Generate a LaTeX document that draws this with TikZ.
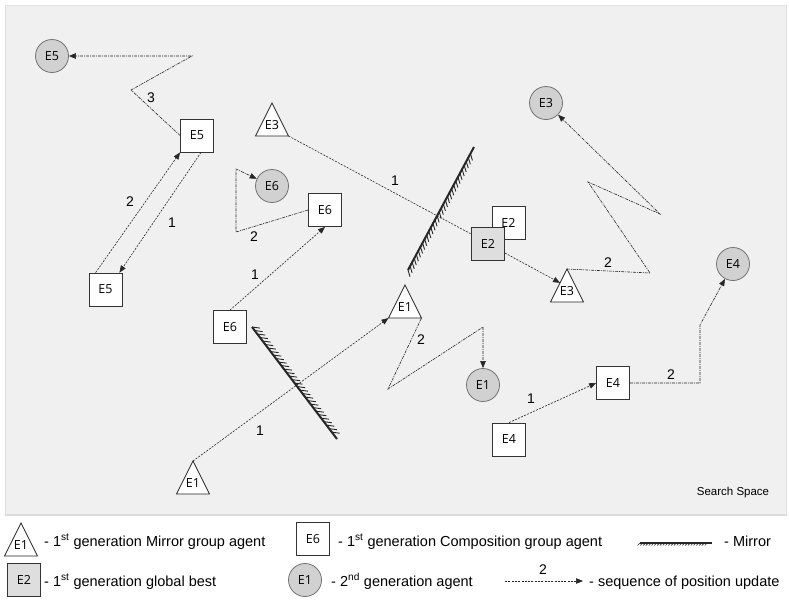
\documentclass[tikz,border=0pt]{standalone}
\usepackage{fontspec}
\setmainfont{Liberation Sans}
\newfontfamily\agentfont{Open Sans}
\usetikzlibrary{arrows.meta,decorations.pathreplacing,calc}

\tikzset{
  agentsq/.style={draw=black!80, line width=0.8pt, fill=white, minimum size=33pt,
    inner sep=0pt, font=\agentfont\fontsize{12.5}{12.5}\selectfont},
  bestsq/.style={agentsq, fill=black!13},
  nextgen/.style={circle, draw=black!55, line width=0.8pt, fill=black!18, minimum size=33pt,
    inner sep=0pt, font=\agentfont\fontsize{12.5}{12.5}\selectfont},
  trilabel/.style={inner sep=0pt, font=\agentfont\fontsize{12.5}{12.5}\selectfont},
  triedge/.style={draw=black!85, line width=0.8pt, fill=white, line join=miter},
  move/.style={draw=black!85, line width=0.6pt, dash pattern=on 2pt off 1.3pt},
  movedd/.style={draw=black!85, line width=0.6pt, dash pattern=on 3pt off 1pt on 1pt off 1pt},
  tip/.style={-{Triangle[length=7pt,width=5.5pt]}},
  stepnum/.style={inner sep=0pt, font=\fontsize{14}{14}\selectfont},
  legendtext/.style={anchor=base west, inner sep=0pt, font=\fontsize{14.5}{15}\selectfont},
  mirrorline/.style={draw=black!85, line width=2pt},
  mirrorhatch/.style={draw=black!85, line width=0.9pt, decorate,
    decoration={border, segment length=4.4pt, amplitude=#1, angle=-135}},
  mirrorhatchL/.style={draw=black!85, line width=0.9pt, decorate,
    decoration={border, segment length=4.4pt, amplitude=#1, angle=45}},
}

% triangle agent: name, apex x, apex y, label
\newcommand\agenttri[4]{%
  \coordinate (#1) at (#2,#3);
  \coordinate (#1-l) at (#2-16.5,#3+33);
  \coordinate (#1-r) at (#2+16.5,#3+33);
  \draw[triedge] (#1) -- (#1-r) -- (#1-l) -- cycle;
  \node[trilabel] (#1-txt) at (#2,#3+22) {#4};
}

\begin{document}
\begin{tikzpicture}[x=1pt,y=-1pt]
\useasboundingbox (0,0) rectangle (789,600);
\fill[white] (0,0) rectangle (789,600);

% search space panel
\draw[draw=black!12, line width=1pt, fill=black!6] (5,5) rectangle (786,514);
\draw[black!14, line width=2pt] (5,515) -- (787,515);
\node[inner sep=0pt, font=\fontsize{11.5}{12}\selectfont] (space) at (733,493) {Search Space};

% mirrors
\coordinate (m1a) at (408,270);
\coordinate (m1b) at (474,147);
\coordinate (m2a) at (252,327);
\coordinate (m2b) at (337,439);
\draw[mirrorhatch=7pt] (m1a) -- (m1b);
\draw[mirrorline] (m1a) -- (m1b);
\draw[mirrorhatchL=8pt] (m2a) -- (m2b);
\draw[mirrorline] (m2a) -- (m2b);

% agents
\node[nextgen] (c5) at (52,56) {E5};
\node[agentsq] (e5a) at (197,135.5) {E5};
\node[agentsq] (e5b) at (105.5,289.5) {E5};

\node[nextgen] (c6) at (272,186) {E6};
\node[agentsq] (e6a) at (325,210) {E6};
\node[agentsq] (e6b) at (230,327) {E6};

\agenttri{t3}{272}{103}{E3}
\node[agentsq] (e2w) at (508.5,223) {E2};
\node[bestsq] (e2g) at (488,244) {E2};
\agenttri{t3b}{567}{269}{E3}
\node[nextgen] (c3) at (546,103) {E3};

\node[nextgen] (c4) at (733,264) {E4};
\node[agentsq] (e4a) at (613,383) {E4};
\node[agentsq] (e4b) at (509,439.5) {E4};

\agenttri{t1a}{405}{285}{E1}
\agenttri{t1b}{193}{461}{E1}
\node[nextgen] (c1) at (483,385) {E1};

% bends of the position updates
\coordinate (b5a) at (131,90);
\coordinate (b5b) at (192,56);
\coordinate (b6a) at (236,232);
\coordinate (b6b) at (236,169);
\coordinate (b3a) at (650,273);
\coordinate (b3b) at (588,182);
\coordinate (b3c) at (660,214);
\coordinate (b4a) at (700,383);
\coordinate (b4b) at (700,325);
\coordinate (b1a) at (388,389);
\coordinate (b1b) at (483,327);
\coordinate (t3bhit) at ($(t3b)!0.42!(t3b-l)$);

% E5 moves
\draw[move,tip] ([xshift=4pt]e5a.south) -- ([xshift=-3pt]e5b.north east);
\draw[move,tip] ([xshift=7pt]e5b.north west) -- (e5a.south west);
\draw[movedd,tip] (e5a.west) -- (b5a) -- (b5b) -- (c5);
\node[stepnum] at (172,223) {1};
\node[stepnum] at (130,202) {2};
\node[stepnum] at (151,98) {3};

% E6 moves
\draw[move,tip] (e6b.north) -- (e6a.south);
\draw[movedd,tip] (e6a.west) -- (b6a) -- (b6b) -- (c6);
\node[stepnum] at (255,275) {1};
\node[stepnum] at (254,237) {2};

% E3 moves
\draw[move] (t3-r) -- ([yshift=10pt]e2g.west);
\draw[move,tip] ([yshift=-9pt]e2g.east) -- (t3bhit);
\draw[movedd,tip] (t3b) -- (b3a) -- (b3b) -- (b3c) -- (c3);
\node[stepnum] at (395,181) {1};
\node[stepnum] at (608,263) {2};

% E4 moves
\draw[move,tip] (e4b.north) -- (e4a.west);
\draw[movedd,tip] (e4a.east) -- (b4a) -- (b4b) -- (c4);
\node[stepnum] at (531,399) {1};
\node[stepnum] at (671,375) {2};

% E1 moves
\draw[move,tip] (t1b) -- (t1a-l);
\draw[movedd,tip] (t1a-r) -- (b1a) -- (b1b) -- (c1);
\node[stepnum] at (260,431) {1};
\node[stepnum] at (421,340) {2};

% legend
\agenttri{lgtri}{21}{523}{E1}
\node[bestsq] (lgbest) at (24,580) {E2};
\node[agentsq] (lgcomp) at (313,539) {E6};
\node[nextgen] (lgnext) at (305,580) {E1};
\coordinate (lgm1) at (640,543);
\coordinate (lgm2) at (712,543);
\draw[draw=black!85, line width=0.6pt, decorate,
  decoration={border, segment length=2.8pt, amplitude=3.5pt, angle=-135}] (lgm1) -- (lgm2);
\draw[draw=black!85, line width=1.4pt] (lgm1) -- (lgm2);
\coordinate (lga) at (505,581);
\coordinate (lgb) at (583,581);
\draw[move,tip] (lga) -- (lgb);
\node[stepnum] at (543,570) {2};

\node[legendtext] at (44,546) {- 1\textsuperscript{st} generation Mirror group agent};
\node[legendtext] at (338,546) {- 1\textsuperscript{st} generation Composition group agent};
\node[legendtext] at (724,546) {- Mirror};
\node[legendtext] at (44,586) {- 1\textsuperscript{st} generation global best};
\node[legendtext] at (331,586) {- 2\textsuperscript{nd} generation agent};
\node[legendtext] at (589,586) {- sequence of position update};
\end{tikzpicture}
\end{document}
